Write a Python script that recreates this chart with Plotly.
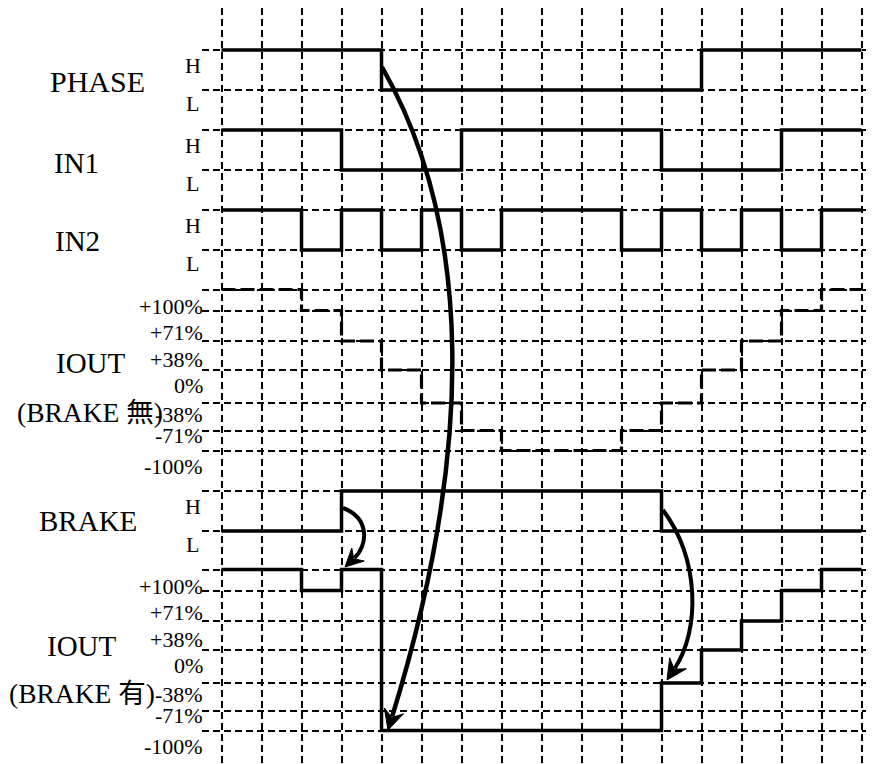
import numpy as np
import plotly.graph_objects as go

# ---------------- data ----------------
T_EDGES = list(range(17))  # 16 time slots
PHASE = ["H"] * 4 + ["L"] * 8 + ["H"] * 4
IN1 = ["H"] * 3 + ["L"] * 3 + ["H"] * 5 + ["L"] * 3 + ["H"] * 2
IN2 = ["H", "H", "L", "H", "L", "H", "L", "H", "H", "H", "L", "H", "L", "H", "L", "H"]
IOUT_NO_BRAKE = [100, 100, 71, 38, 0, -38, -71, -100, -100, -100, -71, -38, 0, 38, 71, 100]
BRAKE = ["L"] * 3 + ["H"] * 8 + ["L"] * 5
IOUT_BRAKE = [100, 100, 71, 100] + [-100] * 7 + [-38, 0, 38, 71, 100]

HL_LEVELS = ["H", "L"]
IOUT_LEVELS = [100, 71, 38, 0, -38, -71, -100]
IOUT_TICK_LABELS = ["+100%", "+71%", "+38%", "0%", "-38%", "-71%", "-100%"]
SIGNAL_NAMES = ["PHASE", "IN1", "IN2", "IOUT", "(BRAKE 無)", "BRAKE", "IOUT", "(BRAKE 有)"]

# ---------------- layout geometry (page pixels) ----------------
PAGE_W, PAGE_H = 874, 764
OFF = 8                       # default page body margin
W, H = PAGE_W - OFF, PAGE_H - OFF
PLOT_LEFT_PX, PLOT_TOP_PX = 202, 8
X0_PX, SLOT_PX = 221.5, 40.0
HL_ROW_TOP = {"PHASE": 50, "IN1": 130, "IN2": 210, "BRAKE": 491}
HL_STEP = 40
IOUT_ROW_TOP = {"nobrake": 289.5, "brake": 569.5}
IOUT_OFFSETS = [0, 21, 51.5, 80.5, 113.5, 141, 161]
IOUT_LABEL_OFFSETS = [17, 43, 69.5, 95.5, 125, 146, 176.5]

SERIF = "Liberation Serif, Times New Roman, Noto Sans CJK JP, serif"

ML = PLOT_LEFT_PX - OFF
MT = PLOT_TOP_PX - OFF


def px_to_t(px):
    return (px - X0_PX) / SLOT_PX


def py(p):
    return p - OFF


def px_to_paper(px):
    return (px - PLOT_LEFT_PX) / (PAGE_W - PLOT_LEFT_PX)


T_MIN, T_MAX = px_to_t(PLOT_LEFT_PX), px_to_t(PAGE_W)


def hl_y(row, v):
    return py(HL_ROW_TOP[row] + HL_STEP * HL_LEVELS.index(v))


def iout_y(row, v):
    return py(IOUT_ROW_TOP[row] + IOUT_OFFSETS[IOUT_LEVELS.index(v)])


grid_y = []
for r in HL_ROW_TOP:
    grid_y += [hl_y(r, v) for v in HL_LEVELS]
for r in IOUT_ROW_TOP:
    grid_y += [iout_y(r, v) for v in IOUT_LEVELS]

fig = go.Figure()


def add_wave(ys, dash="solid", width=3.5):
    ys = list(ys) + [ys[-1]]
    fig.add_trace(go.Scatter(x=T_EDGES, y=ys, mode="lines", line_shape="hv",
                             line=dict(color="black", width=width, dash=dash),
                             hoverinfo="skip", showlegend=False))


add_wave([hl_y("PHASE", v) for v in PHASE])
add_wave([hl_y("IN1", v) for v in IN1])
add_wave([hl_y("IN2", v) for v in IN2])
add_wave([iout_y("nobrake", v) for v in IOUT_NO_BRAKE], dash="14px,5px", width=3.2)
add_wave([hl_y("BRAKE", v) for v in BRAKE])
add_wave([iout_y("brake", v) for v in IOUT_BRAKE])

# ---------------- arrows ----------------
shapes = []


def curved_arrow(p0, p1, p2, tip, width=4.5, hl=20, hw=10, notch=13):
    p0, p1, p2, tip = map(np.array, (p0, p1, p2, tip))
    fwd = tip - p2
    fwd = fwd / np.linalg.norm(fwd)
    back = -fwd
    perp = np.array([-fwd[1], fwd[0]])
    end = tip + back * (notch + 1)
    path = "M {},{} C {},{} {},{} {},{}".format(
        px_to_t(p0[0]), py(p0[1]), px_to_t(p1[0]), py(p1[1]),
        px_to_t(p2[0]), py(p2[1]), px_to_t(end[0]), py(end[1]))
    shapes.append(dict(type="path", path=path, xref="x", yref="y",
                       line=dict(color="black", width=width)))
    left = tip + back * hl + perp * hw
    right = tip + back * hl - perp * hw
    nt = tip + back * notch
    hp = "M {},{} L {},{} L {},{} L {},{} Z".format(
        px_to_t(tip[0]), py(tip[1]), px_to_t(left[0]), py(left[1]),
        px_to_t(nt[0]), py(nt[1]), px_to_t(right[0]), py(right[1]))
    shapes.append(dict(type="path", path=hp, xref="x", yref="y",
                       fillcolor="black", line=dict(color="black", width=1)))


curved_arrow((382, 67), (472, 225), (476, 445), (388, 730))
curved_arrow((343, 508), (370, 518), (368, 545), (345, 567), width=4, hl=18, hw=9, notch=12)
curved_arrow((663, 510), (700, 560), (700, 630), (667, 680), width=4, hl=20, hw=10, notch=13)

# ---------------- labels ----------------
ann = []


def label(text, px, ppy, size, xanchor="center"):
    ann.append(dict(text=text, x=px_to_paper(px), y=py(ppy), xref="paper", yref="y",
                    xanchor=xanchor, yanchor="middle", showarrow=False,
                    font=dict(family=SERIF, size=size, color="black")))


name_pos = [(97, 81.5), (76, 162.5), (77, 241), (90.5, 363), (90, 412),
            (87.5, 521), (82, 646), (81.5, 693)]
name_size = [30, 29, 29, 29, 27.5, 29, 29, 27.5]
for name, (px, ppy), fs in zip(SIGNAL_NAMES, name_pos, name_size):
    label(name, px, ppy, fs)

for r in HL_ROW_TOP:
    label("H", 193, HL_ROW_TOP[r] + 15.5, 22)
    label("L", 192, HL_ROW_TOP[r] + 53.5, 22)

for r in IOUT_ROW_TOP:
    for txt, off in zip(IOUT_TICK_LABELS, IOUT_LABEL_OFFSETS):
        label(txt, 205, IOUT_ROW_TOP[r] + off, 22, xanchor="right")

fig.update_layout(
    width=W, height=H,
    margin=dict(l=ML, r=0, t=MT, b=0, pad=0),
    paper_bgcolor="white", plot_bgcolor="white",
    shapes=shapes, annotations=ann, showlegend=False,
    xaxis=dict(range=[T_MIN, T_MAX], tickvals=T_EDGES, showticklabels=False,
               ticks="", showgrid=True, gridcolor="black", gridwidth=1.8,
               griddash="7px,4px", zeroline=False, showline=False, fixedrange=True),
    yaxis=dict(range=[H, MT], tickvals=grid_y, showticklabels=False, ticks="",
               showgrid=True, gridcolor="black", gridwidth=1.8,
               griddash="7px,4px", zeroline=False, showline=False, fixedrange=True),
)

fig.write_html("out.html")
